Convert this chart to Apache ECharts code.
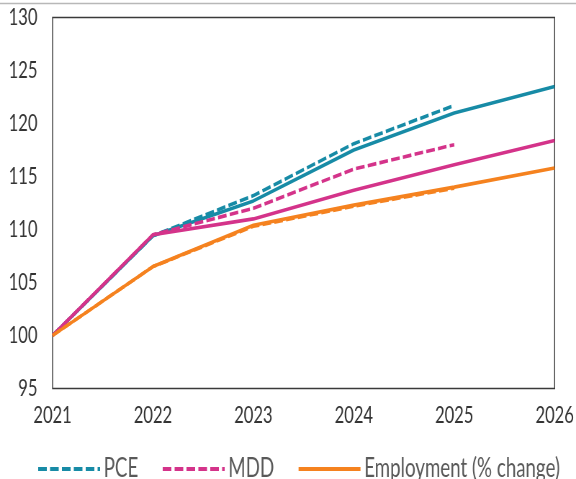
<!DOCTYPE html>
<html>
<head>
<meta charset="utf-8">
<script src="https://cdn.jsdelivr.net/npm/echarts@6/dist/echarts.min.js"></script>
<style>
  html, body { margin: 0; padding: 0; background: #fff; overflow: hidden; }
  #wrap { width: 576px; height: 479px; overflow: hidden; position: relative; }
  /* the chart is laid out wide and squeezed horizontally to get the narrow lettering */
  #chart { width: 800px; height: 479px; transform: scaleX(0.72); transform-origin: 0 0; }
</style>
</head>
<body>
<div id="wrap"><div id="chart"></div></div>
<script>
// Index levels, 2021 = 100
const years = ['2021', '2022', '2023', '2024', '2025', '2026'];

const pceLatest   = [100, 109.4, 112.7, 117.5, 121.0, 123.5];
const pceEarlier  = [100, 109.4, 113.2, 118.1, 121.7, null];
const mddLatest   = [100, 109.5, 111.0, 113.7, 116.1, 118.4];
const mddEarlier  = [100, 109.5, 112.0, 115.7, 118.0, null];
const empLatest   = [100, 106.5, 110.4, 112.3, 114.0, 115.8];
const empEarlier  = [100, 106.5, 110.3, 112.2, 113.9, null];

const yTicks = { min: 95, max: 130, step: 5 };

const TEAL = '#178ba6';
const PINK = '#d4338a';
const ORANGE = '#f5821f';
const DASH = [12, 4.5];
const FONT = 'Lato';

function line(name, data, color, dashed, z) {
  return {
    name: name,
    type: 'line',
    data: data,
    symbol: 'none',
    smooth: false,
    z: z,
    lineStyle: { color: color, width: 3.6, type: dashed ? DASH : 'solid', cap: 'butt' },
    itemStyle: { color: color }
  };
}

const chart = echarts.init(document.getElementById('chart'), null, { renderer: 'canvas' });

chart.setOption({
  animation: false,
  backgroundColor: '#ffffff',
  grid: {
    left: 73, right: 27, top: 17.5, bottom: 90.5,
    show: true, borderColor: '#3a3a3a', borderWidth: 1.4, backgroundColor: 'transparent'
  },
  xAxis: {
    type: 'category',
    data: years,
    boundaryGap: false,
    axisLine: { show: false },
    axisTick: { show: false },
    splitLine: { show: false },
    axisLabel: { color: '#333333', fontFamily: FONT, fontSize: 23, margin: 16, showMaxLabel: true, showMinLabel: true }
  },
  yAxis: {
    type: 'value',
    min: yTicks.min, max: yTicks.max, interval: yTicks.step,
    axisLine: { show: false },
    axisTick: { show: false },
    splitLine: { show: false },
    axisLabel: { color: '#333333', fontFamily: FONT, fontSize: 23, margin: 21 }
  },
  legend: {
    data: ['PCE', 'MDD', 'Employment (% change)'],
    left: 46, top: 451,
    itemWidth: 86, itemHeight: 28, itemGap: 32,
    itemStyle: { opacity: 0 },
    lineStyle: { width: 4 },
    textStyle: { color: '#595959', fontFamily: FONT, fontSize: 26 }
  },
  graphic: [{
    type: 'line',
    shape: { x1: 0, y1: 3.5, x2: 800, y2: 3.5 },
    style: { stroke: '#b8b8b8', lineWidth: 1.5 }
  }],
  series: [
    line('PCE', pceEarlier, TEAL, true, 2),
    line('PCE latest', pceLatest, TEAL, false, 3),
    line('MDD', mddEarlier, PINK, true, 4),
    line('MDD latest', mddLatest, PINK, false, 5),
    line('Employment earlier', empEarlier, ORANGE, true, 6),
    line('Employment (% change)', empLatest, ORANGE, false, 7)
  ]
});
</script>
</body>
</html>
